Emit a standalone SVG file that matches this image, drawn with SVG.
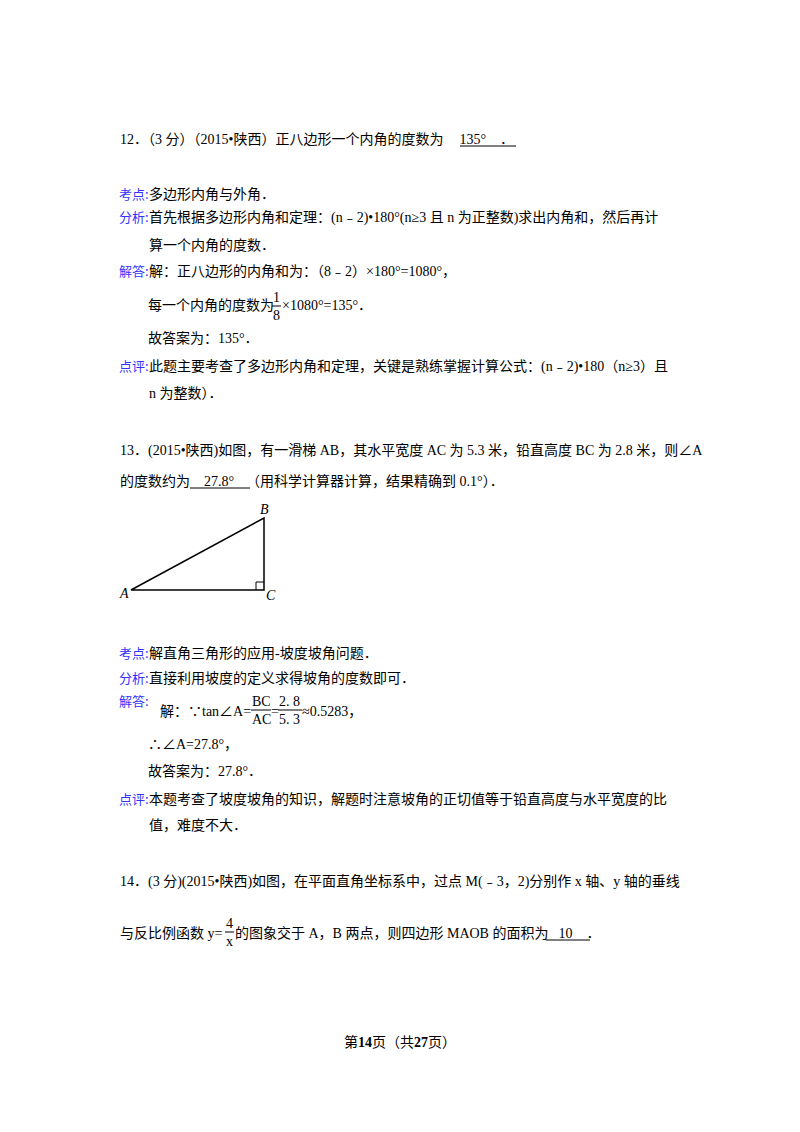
<svg xmlns="http://www.w3.org/2000/svg" width="800" height="1132" viewBox="0 0 800 1132">
<style>
text{font-family:"Liberation Serif","Noto Sans CJK SC",serif;font-size:14px;fill:#000}
.l{fill:#3333ff;font-size:13px;font-family:"Noto Sans CJK SC",sans-serif}
.u{stroke:#000;stroke-width:1}
</style>
<rect width="800" height="1132" fill="#fff"/>
<g id="q12">
<text x="120" y="144">12．（3 分）（2015•陕西）正八边形一个内角的度数为<tspan dx="16">135°</tspan><tspan dx="14">．</tspan></text>
<line class="u" x1="460" y1="146" x2="516" y2="146"/>
<text class="l" x="119" y="199">考点:</text><text x="149" y="199">多边形内角与外角．</text>
<text class="l" x="119" y="222">分析:</text><text x="149" y="222">首先根据多边形内角和定理：(n﹣2)•180°(n≥3 且 n 为正整数)求出内角和，然后再计</text>
<text x="149" y="250">算一个内角的度数．</text>
<text class="l" x="119" y="276">解答:</text><text x="149" y="276">解：正八边形的内角和为：（8﹣2）×180°=1080°，</text>
<text x="148" y="310">每一个内角的度数为</text>
<text x="273" y="302" font-size="13">1</text><line class="u" x1="272" y1="306" x2="281" y2="306"/><text x="273" y="320" font-size="13">8</text>
<text x="282" y="310">×1080°=135°．</text>
<text x="148" y="343">故答案为：135°．</text>
<text class="l" x="119" y="371">点评:</text><text x="149" y="371">此题主要考查了多边形内角和定理，关键是熟练掌握计算公式：(n﹣2)•180（n≥3）且</text>
<text x="149" y="398">n 为整数）．</text>
</g>
<g id="q13">
<text x="120" y="455">13．(2015•陕西)如图，有一滑梯 AB，其水平宽度 AC 为 5.3 米，铅直高度 BC 为 2.8 米，则∠A</text>
<text x="120" y="486">的度数约为<tspan dx="14">27.8°</tspan><tspan dx="12">（用科学计算器计算，结果精确到 0.1°）．</tspan></text>
<line class="u" x1="190" y1="488" x2="250" y2="488"/>
<g id="triangle" fill="none" stroke="#000" stroke-width="1.5">
<polygon points="131,590 264,518 264,590"/>
<polyline points="256,590 256,582 264,582" stroke-width="1"/>
</g>
<text x="260" y="514" font-style="italic" font-size="13">B</text>
<text x="120" y="598" font-style="italic" font-size="13">A</text>
<text x="266" y="600" font-style="italic" font-size="13">C</text>
<text class="l" x="119" y="658">考点:</text><text x="149" y="658">解直角三角形的应用-坡度坡角问题．</text>
<text class="l" x="119" y="683">分析:</text><text x="149" y="683">直接利用坡度的定义求得坡角的度数即可．</text>
<text class="l" x="119" y="706">解答:</text>
<text x="160" y="716">解：∵tan∠A=</text>
<text x="252" y="706" font-size="13">BC</text><line class="u" x1="251" y1="710" x2="271" y2="710"/><text x="252" y="724" font-size="13">AC</text>
<text x="271" y="716">=</text>
<text x="279" y="706" font-size="13">2. 8</text><line class="u" x1="278" y1="710" x2="302" y2="710"/><text x="279" y="724" font-size="13">5. 3</text>
<text x="302" y="716">≈0.5283，</text>
<text x="148" y="749">∴∠A=27.8°，</text>
<text x="148" y="776">故答案为：27.8°．</text>
<text class="l" x="119" y="804">点评:</text><text x="149" y="804">本题考查了坡度坡角的知识，解题时注意坡角的正切值等于铅直高度与水平宽度的比</text>
<text x="149" y="830">值，难度不大．</text>
</g>
<g id="q14">
<text x="120" y="886">14．(3 分)(2015•陕西)如图，在平面直角坐标系中，过点 M(﹣3，2)分别作 x 轴、y 轴的垂线</text>
<text x="120" y="938">与反比例函数 y=</text>
<text x="226" y="928" font-size="13">4</text><line class="u" x1="225" y1="932" x2="234" y2="932"/><text x="226" y="946" font-size="13">x</text>
<text x="235" y="938">的图象交于 A，B 两点，则四边形 MAOB 的面积为<tspan dx="10">10</tspan><tspan dx="14">．</tspan></text>
<line class="u" x1="546" y1="940" x2="590" y2="940"/>
</g>
<text x="400" y="1047" text-anchor="middle" font-size="12">第<tspan font-weight="bold" font-size="14">14</tspan>页（共<tspan font-weight="bold" font-size="14">27</tspan>页）</text>
</svg>
